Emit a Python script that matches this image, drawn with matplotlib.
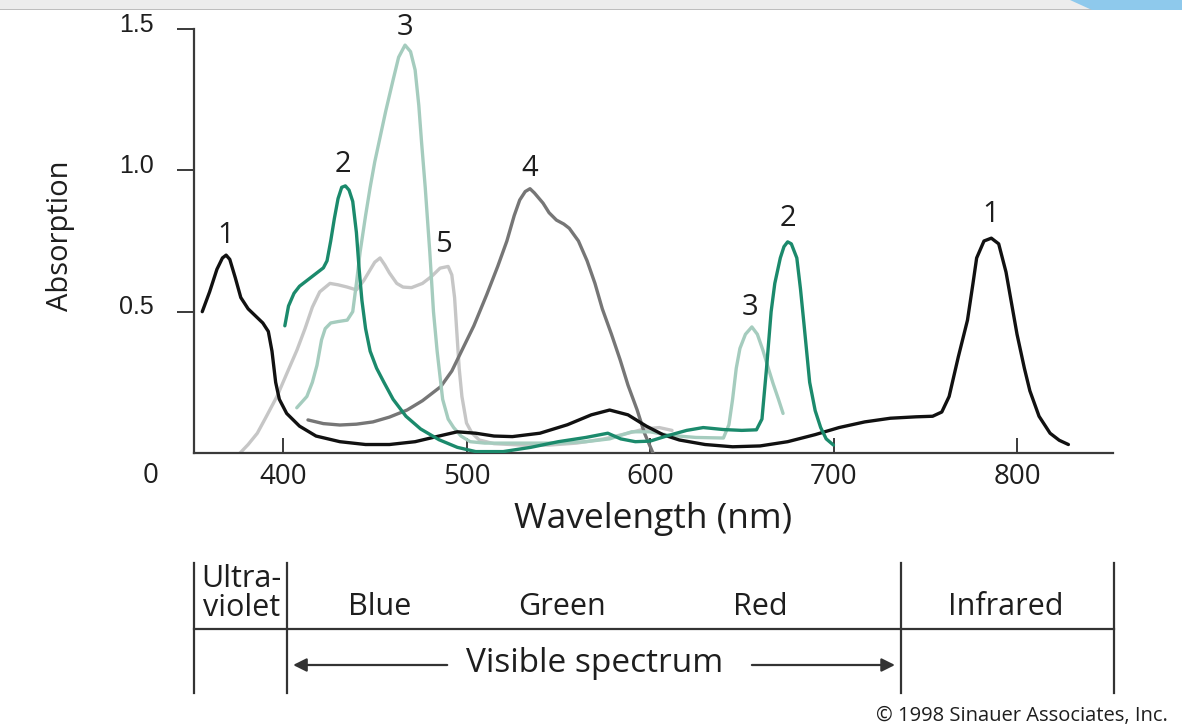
import matplotlib
matplotlib.use("Agg")
import matplotlib.pyplot as plt
from matplotlib.transforms import ScaledTranslation
from matplotlib.patches import Polygon, Rectangle

plt.rcParams['font.family'] = ['Open Sans', 'DejaVu Sans']

# ---------------- data (wavelength nm, absorption) ----------------
wl1 = [356, 360, 364, 367, 369, 371, 374, 377, 381, 385, 389, 392, 394, 396, 398, 402, 409, 418, 431, 445,
       458, 472, 485, 495, 505, 515, 525, 540, 555, 568, 578, 588, 598, 607, 616, 630, 645, 660, 675, 690,
       703, 717, 731, 745, 754, 759, 763, 768, 773, 776, 778, 782, 786, 790, 794, 797, 800, 804, 807, 812,
       818, 823, 828]
ab1 = [0.50, 0.57, 0.65, 0.69, 0.70, 0.685, 0.62, 0.55, 0.51, 0.485, 0.46, 0.43, 0.36, 0.25, 0.19, 0.14, 0.095, 0.06, 0.04, 0.03,
       0.03, 0.04, 0.06, 0.075, 0.07, 0.06, 0.058, 0.07, 0.10, 0.135, 0.152, 0.135, 0.095, 0.065, 0.046, 0.03, 0.022, 0.025, 0.04, 0.065,
       0.09, 0.11, 0.123, 0.128, 0.13, 0.145, 0.20, 0.34, 0.47, 0.60, 0.69, 0.75, 0.76, 0.74, 0.64, 0.53, 0.42, 0.30, 0.22, 0.13,
       0.07, 0.045, 0.03]

wl2 = [401, 403, 406, 409, 414, 418, 422, 424, 426, 428, 430, 432, 434, 436, 438, 440, 441.5, 443, 445, 447.5,
       451, 455, 460, 467, 475, 485, 495, 505, 520, 535, 550, 565, 577, 584, 592, 600, 610, 620, 629, 640,
       650, 658, 661, 663.5, 666, 668, 671, 673, 675, 677, 680, 682, 684, 687, 690, 693, 696, 700]
ab2 = [0.45, 0.52, 0.565, 0.59, 0.615, 0.635, 0.655, 0.68, 0.75, 0.83, 0.90, 0.94, 0.945, 0.93, 0.89, 0.78, 0.65, 0.54, 0.44, 0.36,
       0.30, 0.25, 0.19, 0.13, 0.085, 0.047, 0.02, 0.005, 0.005, 0.02, 0.04, 0.055, 0.07, 0.05, 0.04, 0.042, 0.062, 0.08, 0.09, 0.083,
       0.08, 0.082, 0.12, 0.30, 0.50, 0.60, 0.69, 0.73, 0.747, 0.74, 0.69, 0.58, 0.45, 0.25, 0.15, 0.09, 0.05, 0.028]

wl3 = [407.5, 413, 416, 418.5, 421, 423, 426, 430, 435, 438, 440, 442, 445, 447.5, 450, 453, 456, 460, 463, 466.5,
       469.5, 472, 474, 475.5, 477.5, 480, 482, 484, 487, 490, 493, 497, 502, 510, 530, 550, 565, 578, 590, 600,
       610, 625, 640, 643, 645, 647, 649, 652, 655.5, 658.5, 661.5, 664, 667, 670, 672.5]
ab3 = [0.16, 0.20, 0.25, 0.31, 0.40, 0.44, 0.46, 0.465, 0.47, 0.50, 0.60, 0.71, 0.84, 0.94, 1.03, 1.12, 1.21, 1.32, 1.40, 1.443,
       1.42, 1.355, 1.23, 1.10, 0.94, 0.71, 0.50, 0.36, 0.19, 0.12, 0.09, 0.06, 0.04, 0.035, 0.035, 0.035, 0.04, 0.05, 0.075, 0.075,
       0.063, 0.055, 0.053, 0.10, 0.19, 0.30, 0.37, 0.42, 0.446, 0.42, 0.364, 0.31, 0.247, 0.19, 0.14]

wl4 = [413.6, 422, 431, 440, 449, 458, 467.6, 476, 481, 486, 492, 498, 504, 511, 517, 522, 526, 529, 532, 534.6,
       537, 541.7, 545, 549, 553, 556, 561, 565.7, 570, 574, 579, 583.7, 588, 593, 597, 601.6]
ab4 = [0.117, 0.104, 0.099, 0.102, 0.11, 0.127, 0.152, 0.185, 0.21, 0.235, 0.29, 0.37, 0.45, 0.56, 0.66, 0.75, 0.84, 0.895, 0.925, 0.935,
       0.92, 0.884, 0.85, 0.824, 0.81, 0.795, 0.75, 0.68, 0.60, 0.51, 0.42, 0.33, 0.24, 0.152, 0.07, 0.0]

wl5 = [376.6, 381, 386, 391, 396.7, 402, 407.6, 412, 416, 420, 425.6, 430, 435, 440, 444, 447.4, 450, 452.9, 455.5, 458,
       462, 465.4, 470, 476, 481, 485.6, 490, 492, 493.5, 494.8, 496, 497.5, 500, 503, 507, 515, 530, 545, 560, 575,
       588, 597, 605, 612]
ab5 = [0.0, 0.03, 0.07, 0.13, 0.20, 0.28, 0.364, 0.44, 0.516, 0.57, 0.60, 0.595, 0.587, 0.577, 0.61, 0.647, 0.675, 0.69, 0.665, 0.637,
       0.60, 0.587, 0.585, 0.60, 0.625, 0.654, 0.66, 0.63, 0.55, 0.42, 0.30, 0.20, 0.106, 0.07, 0.046, 0.033, 0.028, 0.028, 0.035, 0.05,
       0.07, 0.085, 0.09, 0.08]

peak_labels = ["1", "2", "3", "5", "4", "3", "2", "1"]
peak_x = [368.9, 432.7, 466.5, 487.7, 534.6, 654.5, 675.0, 785.8]
peak_y = [0.768, 1.02, 1.507, 0.739, 1.008, 0.513, 0.83, 0.842]

x_ticks = [400, 500, 600, 700, 800]
y_ticks = [0.5, 1.0, 1.5]
y_tick_labels = ["0.5", "1.0", "1.5"]

band_edges = [351.5, 402, 737, 853]
band_names = ["Blue", "Green", "Red", "Infrared"]
band_name_x = [452.9, 552, 660, 794]

# ---------------- styles ----------------
c_black = "#111111"
c_teal = "#1b8a6c"
c_lteal = "#a5ccbe"
c_grey = "#767676"
c_lgrey = "#c6c6c6"
tc = "#1e1e1e"

W, H = 1182, 728
fig = plt.figure(figsize=(W / 100, H / 100), dpi=100)

# slide decoration at top
fig.patches.append(Rectangle((0, 1 - 9 / H), 1, 9 / H, transform=fig.transFigure,
                             facecolor="#ececec", edgecolor="none", zorder=0))
fig.patches.append(Rectangle((0, 1 - 10 / H), 1, 1.2 / H, transform=fig.transFigure,
                             facecolor="#bdbdbd", edgecolor="none", zorder=0))
fig.patches.append(Polygon([(1070 / W, 1), (1, 1), (1, 1 - 10 / H), (1092 / W, 1 - 10 / H)],
                           closed=True, transform=fig.transFigure,
                           facecolor="#8ec9ec", edgecolor="none", zorder=1))

ax = fig.add_axes([194 / W, 1 - 453 / H, (1113 - 194) / W, (453 - 29) / H])
ax.set_xlim(351.5, 852.3)
ax.set_ylim(0, 1.5)

lw = 2.4
kw = dict(lw=lw, solid_capstyle='round', solid_joinstyle='round')
ax.plot(wl5, ab5, color=c_lgrey, zorder=2, **kw)
ax.plot(wl4, ab4, color=c_grey, zorder=3, **kw)
ax.plot(wl3, ab3, color=c_lteal, zorder=4, **kw)
ax.plot(wl1, ab1, color=c_black, zorder=5, **kw)
ax.plot(wl2, ab2, color=c_teal, zorder=6, **kw)

for lab, px, py in zip(peak_labels, peak_x, peak_y):
    ax.text(px, py, lab, ha='center', va='center', fontsize=21, color=tc, clip_on=False)

for s in ['top', 'right']:
    ax.spines[s].set_visible(False)
for s in ['left', 'bottom']:
    ax.spines[s].set_color("#3a3a3a")
    ax.spines[s].set_linewidth(1.6)

ax.set_xticks(x_ticks)
ax.set_xticklabels([str(t) for t in x_ticks])
ax.tick_params(axis='x', direction='in', length=11, width=1.4, color="#3a3a3a", pad=7,
               labelsize=20, labelcolor=tc)
ax.set_yticks(y_ticks)
ax.set_yticklabels(y_tick_labels, family=['Liberation Sans', 'DejaVu Sans'])
ax.tick_params(axis='y', direction='out', length=12, width=1.4, color="#3a3a3a", pad=17,
               labelsize=18, labelcolor=tc)
for t in ax.get_yticklabels():
    t.set_transform(t.get_transform() + ScaledTranslation(0, 5 / 72, fig.dpi_scale_trans))

ax.text(-0.0475, -0.054, "0", transform=ax.transAxes, ha='center', va='center',
        fontsize=20, color=tc)

ax.set_xlabel("Wavelength (nm)", fontsize=25.5, color=tc)
ax.xaxis.set_label_coords(0.5, -0.116)
ax.set_ylabel("Absorption", fontsize=21, color=tc)
ax.yaxis.set_label_coords(-0.1295, 0.512)

# ---------------- spectrum band panel ----------------
ax2 = fig.add_axes([194 / W, 0, (1113 - 194) / W, 178 / H])
ax2.set_xlim(351.5, 852.3)
ax2.set_ylim(0, 1)
ax2.axis('off')

def yb(py):
    return (728 - py) / 178.0

lc = "#333333"
for e in band_edges:
    ax2.plot([e, e], [yb(693), yb(563)], color=lc, lw=1.6, clip_on=False)
ax2.plot([band_edges[0], band_edges[-1]], [yb(629), yb(629)], color=lc, lw=1.6, clip_on=False)

ax2.text(377.5, yb(579), "Ultra-", ha='center', va='center', fontsize=22, color=tc)
ax2.text(377.5, yb(608), "violet", ha='center', va='center', fontsize=22, color=tc)
for nm, bx in zip(band_names, band_name_x):
    ax2.text(bx, yb(607), nm, ha='center', va='center', fontsize=22, color=tc)

ax2.text(570, yb(663), "Visible spectrum", ha='center', va='center', fontsize=24, color=tc)
ax2.annotate("", xy=(band_edges[1] + 2, yb(665)), xytext=(491, yb(665)),
             arrowprops=dict(arrowstyle='-|>', color=lc, lw=1.6, mutation_scale=20))
ax2.annotate("", xy=(band_edges[2] - 2, yb(665)), xytext=(654, yb(665)),
             arrowprops=dict(arrowstyle='-|>', color=lc, lw=1.6, mutation_scale=20))

fig.text(1168 / W, 12 / H, "\u00a9 1998 Sinauer Associates, Inc.", ha='right', va='center',
         fontsize=14.5, color=tc)

fig.savefig("out.png", dpi=100)
